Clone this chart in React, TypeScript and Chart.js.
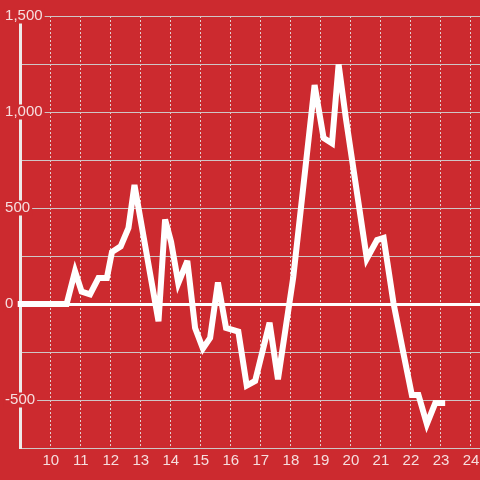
import React, { useEffect, useRef } from 'react';
import { Chart, registerables } from 'chart.js';

Chart.register(...registerables);

// Time of day (hours) and values
const hours = [
  9.0, 10.53, 10.81, 11.03, 11.31, 11.59, 11.87, 12.04, 12.33, 12.59, 12.79,
  13.59, 13.81, 14.01, 14.25, 14.55, 14.81, 15.07, 15.31, 15.57, 15.84,
  16.25, 16.53, 16.81, 17.29, 17.57, 18.08, 18.79, 19.09, 19.37, 19.59,
  19.83, 20.53, 20.87, 21.09, 21.42, 21.75, 22.03, 22.25, 22.53, 22.81, 23.04,
];
const values = [
  0, 0, 170, 64, 50, 135, 135, 271, 300, 396, 620,
  -90, 440, 323, 109, 225, -125, -232, -177, 112, -125,
  -144, -425, -401, -98, -392, 140, 1140, 865, 837, 1248,
  969, 236, 333, 344, 4, -257, -474, -474, -625, -516, -516,
];

const xTickValues = [10, 11, 12, 13, 14, 15, 16, 17, 18, 19, 20, 21, 22, 23, 24];
const yGridValues = [-750, -500, -250, 0, 250, 500, 750, 1000, 1250, 1500];
const yLabelValues = [-500, 0, 500, 1000, 1500];

const BG = '#cc2a2f';
const LABEL = '#f6dede';
const FONT = 'Liberation Sans, Arial, sans-serif';

const miterPlugin = {
  id: 'miterLimit',
  beforeDatasetsDraw(chart: any) {
    chart.ctx.miterLimit = 4;
  },
};

export default function App() {
  const ref = useRef<HTMLCanvasElement | null>(null);

  useEffect(() => {
    document.body.style.margin = '0';
    const canvas = ref.current;
    if (!canvas) return;
    const chart = new Chart(canvas, {
      type: 'line',
      data: {
        datasets: [
          {
            data: hours.map((h, i) => ({ x: h, y: values[i] })),
            borderColor: '#ffffff',
            borderWidth: 6,
            pointRadius: 0,
            tension: 0,
            borderCapStyle: 'square',
            borderJoinStyle: 'miter',
            clip: false,
          },
        ],
      },
      plugins: [miterPlugin],
      options: {
        responsive: false,
        animation: false,
        devicePixelRatio: 1,
        layout: { padding: { left: 0, top: 16, right: 0, bottom: 0 } },
        plugins: { legend: { display: false }, tooltip: { enabled: false } },
        scales: {
          x: {
            type: 'linear',
            min: 9,
            max: 24.3,
            afterBuildTicks: (s: any) => {
              s.ticks = xTickValues.map((v) => ({ value: v }));
            },
            afterFit: (s: any) => {
              s.height = 32;
              s.paddingLeft = 0;
              s.paddingRight = 0;
            },
            grid: { color: '#e2cfcf', lineWidth: 1, drawTicks: false },
            border: { display: false, dash: [2, 2] },
            ticks: {
              color: LABEL,
              font: { family: FONT, size: 15, lineHeight: 1 },
              padding: 5.5,
              maxRotation: 0,
              autoSkip: false,
              callback: (v: any) => String(v),
            },
          },
          y: {
            type: 'linear',
            min: -750,
            max: 1500,
            afterBuildTicks: (s: any) => {
              s.ticks = yGridValues.map((v) => ({ value: v }));
            },
            afterFit: (s: any) => {
              s.width = 20.7;
              s.paddingTop = 0;
              s.paddingBottom = 0;
            },
            grid: {
              color: (ctx: any) => (ctx.tick && ctx.tick.value === 0 ? '#ffffff' : '#cfc6c6'),
              lineWidth: (ctx: any) => (ctx.tick && ctx.tick.value === 0 ? 3 : 1),
              drawTicks: false,
            },
            border: { display: true, color: '#eeeaea', width: 3 },
            ticks: {
              mirror: true,
              crossAlign: 'near',
              color: LABEL,
              font: { family: FONT, size: 15, lineHeight: 1 },
              padding: -15.6,
              showLabelBackdrop: (ctx: any) => yLabelValues.includes(ctx.tick && ctx.tick.value),
              backdropColor: BG,
              backdropPadding: { left: 2, right: 2, top: 0, bottom: 0 },
              callback: (v: any) => (yLabelValues.includes(v) ? Number(v).toLocaleString('en-US') : ''),
            },
          },
        },
      },
    } as any);
    return () => chart.destroy();
  }, []);

  return (
    <div style={{ position: 'fixed', left: 0, top: 0, width: 480, height: 480, background: BG }}>
      <canvas ref={ref} width={480} height={480} style={{ display: 'block' }} />
    </div>
  );
}
